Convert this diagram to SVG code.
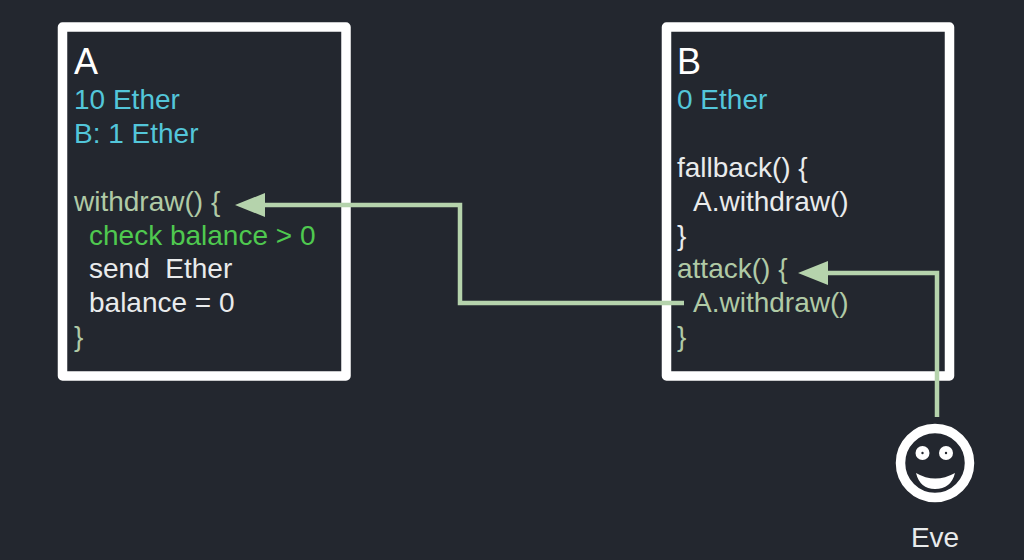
<svg xmlns="http://www.w3.org/2000/svg" width="1024" height="560" viewBox="0 0 1024 560">
<style>
text{font-family:"Liberation Sans",Arial,sans-serif;font-size:28px;fill:#e9ebec}
.t{font-size:36px;fill:#fff}
.c{fill:#53c6da}
.g{fill:#b0caa6}
.k{fill:#4fc94f}
.box{fill:#23272f;stroke:#fff;stroke-width:9.5;stroke-linejoin:round}
.wire{fill:none;stroke:#b5d3ac;stroke-width:4.5}
.head{fill:#b5d3ac}
</style>
<rect width="1024" height="560" fill="#23272f"/>
<g id="node-A">
<rect class="box" x="62.5" y="27" width="283.5" height="349"/>
<text class="t" x="74" y="74">A</text>
<text class="c" x="74" y="109">10 Ether</text>
<text class="c" x="74" y="143">B: 1 Ether</text>
<text class="g" x="74" y="211">withdraw() {</text>
<text class="k" x="89" y="245">check balance &gt; 0</text>
<text x="89" y="278" xml:space="preserve">send  Ether</text>
<text x="89" y="312">balance = 0</text>
<text class="g" x="74" y="346">}</text>
</g>
<g id="node-B">
<rect class="box" x="666.5" y="27" width="283" height="349"/>
<text class="t" x="677" y="74">B</text>
<text class="c" x="677" y="109">0 Ether</text>
<text x="677" y="177">fallback() {</text>
<text x="693" y="211">A.withdraw()</text>
<text x="677" y="245">}</text>
<text class="g" x="677" y="278">attack() {</text>
<text class="g" x="693" y="312">A.withdraw()</text>
<text class="g" x="677" y="346">}</text>
</g>
<g id="node-Eve">
<circle cx="935" cy="463" r="34.5" fill="none" stroke="#fff" stroke-width="9.5"/>
<circle cx="922.5" cy="453" r="7" fill="#fff"/>
<circle cx="946" cy="453" r="7" fill="#fff"/>
<circle cx="922.5" cy="453" r="1.2" fill="#23272f"/>
<circle cx="946" cy="453" r="1.2" fill="#23272f"/>
<path d="M916 473Q935 484 955 473Q951 489 935 489Q920 489 916 473Z" fill="#fff"/>
<text x="935" y="547" text-anchor="middle" style="font-size:28px">Eve</text>
</g>
<g id="connectors">
<path class="wire" d="M684 303H460V205H262"/>
<path class="head" d="M235 205L265 193V217Z"/>
<path class="wire" d="M937 417V273H825"/>
<path class="head" d="M798 273L828 261V285Z"/>
</g>
</svg>
